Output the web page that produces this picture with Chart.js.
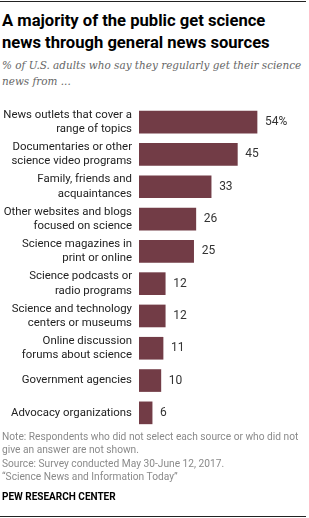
<!DOCTYPE html>
<html>
<head>
<meta charset="utf-8">
<script src="https://cdn.jsdelivr.net/npm/chart.js@4"></script>
<style>
  html, body { margin: 0; padding: 0; background: #fff; }
  body { width: 309px; height: 518px; position: relative; overflow: hidden; }
  .rule { position: absolute; left: 0; width: 306px; height: 1.5px; background: #222; }
  #title { position: absolute; left: 2px; top: 10px; width: 305px; font: bold 16.6px Roboto, sans-serif; line-height: 21.5px; color: #000; }
  #sub { position: absolute; left: 2px; top: 58px; width: 307px; font: italic 11.6px "DejaVu Serif Condensed", "DejaVu Serif", serif; line-height: 15.5px; color: #666; }
  #wrap { position: absolute; left: 0; top: 100px; width: 309px; height: 334px; }
  #notes { position: absolute; left: 2px; top: 430px; width: 305px; font: 10.2px Roboto, sans-serif; line-height: 13.3px; color: #8a8a8a; }
  #pew { position: absolute; left: 2px; top: 489.5px; font: bold 10px Roboto, sans-serif; line-height: 13px; color: #000; }
</style>
</head>
<body>
<div class="rule" style="top:0.5px"></div>
<div id="title">A majority of the public get science news through general news sources</div>
<div id="sub">% of U.S. adults who say they regularly get their science news from ...</div>
<div id="wrap"><canvas id="chart"></canvas></div>
<div id="notes">Note: Respondents who did not select each source or who did not give an answer are not shown.<br>Source: Survey conducted May 30-June 12, 2017.<br>“Science News and Information Today”</div>
<div id="pew">PEW RESEARCH CENTER</div>
<div class="rule" style="top:515.5px"></div>
<script>
(function () {
    const categories = [
        ['News outlets that cover a', 'range of topics'],
        ['Documentaries or other', 'science video programs'],
        ['Family, friends and', 'acquaintances'],
        ['Other websites and blogs', 'focused on science'],
        ['Science magazines in', 'print or online'],
        ['Science podcasts or', 'radio programs'],
        ['Science and technology', 'centers or museums'],
        ['Online discussion', 'forums about science'],
        ['Government agencies'],
        ['Advocacy organizations'],
    ];
    const values = [54, 45, 33, 26, 25, 12, 12, 11, 10, 6];
    const valueLabels = ['54%', '45', '33', '26', '25', '12', '12', '11', '10', '6'];

    const fontFamily = 'Roboto, sans-serif';

    // category names drawn at the y scale's pixel for each row, right-aligned
    const categoryLabelPlugin = {
        id: 'categoryLabels',
        afterDraw(chart) {
            const ctx = chart.ctx;
            const yScale = chart.scales.y;
            const right = chart.chartArea.left - 7;
            const lineHeight = 14.2;
            ctx.save();
            ctx.font = '11.4px ' + fontFamily;
            ctx.fillStyle = '#222';
            ctx.textAlign = 'right';
            ctx.textBaseline = 'middle';
            categories.forEach((lines, index) => {
                const center = yScale.getPixelForValue(index);
                const start = center - ((lines.length - 1) * lineHeight) / 2;
                lines.forEach((line, i) => {
                    ctx.fillText(line, right, start + i * lineHeight);
                });
            });
            ctx.restore();
        },
    };

    const valueLabelPlugin = {
        id: 'valueLabels',
        afterDatasetsDraw(chart) {
            const ctx = chart.ctx;
            const meta = chart.getDatasetMeta(0);
            ctx.save();
            ctx.font = '12px ' + fontFamily;
            ctx.fillStyle = '#333';
            ctx.textAlign = 'left';
            ctx.textBaseline = 'middle';
            meta.data.forEach((bar, index) => {
                ctx.fillText(valueLabels[index], bar.x + 8, bar.y);
            });
            ctx.restore();
        },
    };

    new Chart(document.getElementById('chart'), {
        type: 'bar',
        data: {
            labels: categories.map((lines) => lines.join(' ')),
            datasets: [
                {
                    data: values,
                    backgroundColor: '#723c46',
                    borderWidth: 0,
                    barThickness: 22,
                },
            ],
        },
        options: {
            indexAxis: 'y',
            responsive: true,
            maintainAspectRatio: false,
            animation: false,
            layout: {
                padding: { top: 6, bottom: 5, left: 0, right: 17 },
            },
            scales: {
                x: {
                    min: 0,
                    max: 70,
                    display: false,
                },
                y: {
                    grid: { display: false },
                    border: { display: false },
                    ticks: { display: false },
                    afterFit: (scale) => {
                        scale.width = 139;
                    },
                },
            },
            plugins: {
                legend: { display: false },
                tooltip: { enabled: false },
            },
        },
        plugins: [categoryLabelPlugin, valueLabelPlugin],
    });
})();
</script>
</body>
</html>
